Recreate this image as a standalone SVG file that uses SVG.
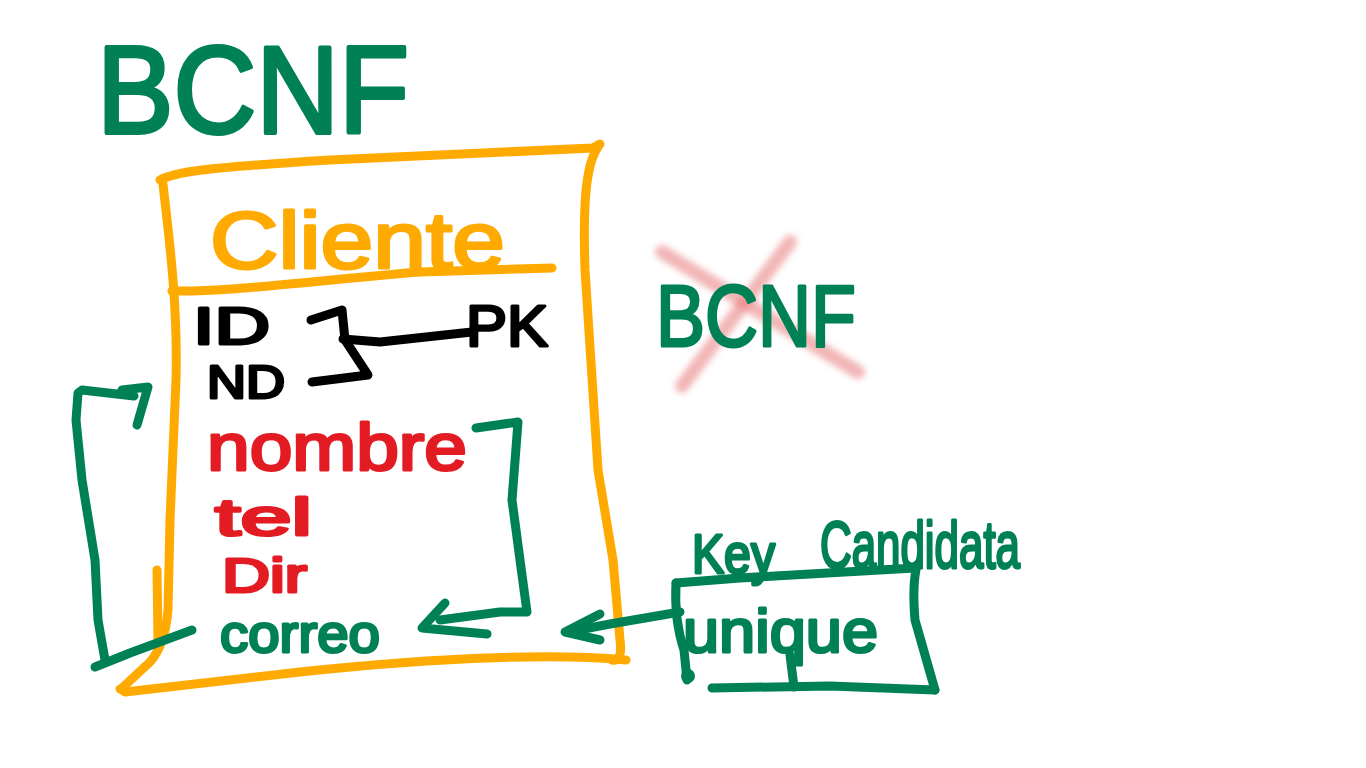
<svg xmlns="http://www.w3.org/2000/svg" width="1366" height="768" viewBox="0 0 1366 768">
<style>
.s{fill:none;stroke-linecap:round;stroke-linejoin:round;stroke-width:9}
.o{stroke:#ffaa00}.g{stroke:#008055}.k{stroke:#000}
.t{font-family:"Liberation Sans","DejaVu Sans",sans-serif;stroke-linejoin:round;stroke-width:3}
.tg{fill:#008055;stroke:#008055}.to{fill:#ffaa00;stroke:#ffaa00}.tk{fill:#000;stroke:#000}.tr{fill:#e31b23;stroke:#e31b23}
</style>
<defs>
<filter id="blur" x="-20%" y="-20%" width="140%" height="140%"><feGaussianBlur stdDeviation="3"/></filter>
</defs>
<rect width="1366" height="768" fill="#fff"/>

<g id="title">
<text class="t tg" x="97" y="133" font-size="125" textLength="312" lengthAdjust="spacingAndGlyphs" style="stroke-width:4">BCNF</text>
</g>

<g id="cliente-table">
<path class="s o" d="M160,180 C175,172 200,168 330,160 Q500,152 593,148 L600,144"/>
<path class="s o" d="M598,147 C585,165 583,210 585,270 L598,470 L613,560 L620,640 Q623,662 612,660"/>
<path class="s o" d="M626,660 C560,654 450,656 300,672 L125,692 L120,689"/>
<path class="s o" d="M163,184 C168,230 178,300 176,380 L170,520 L168,610 Q165,645 150,662 L122,688"/>
<path class="s o" d="M157,570 L158,640"/>
<path class="s o" d="M172,291 C230,292 300,282 420,272 L552,268"/>
<text class="t to" x="210" y="268" font-size="80" textLength="295" lengthAdjust="spacingAndGlyphs">Cliente</text>
</g>

<g id="keys">
<text class="t tk" x="193" y="344" font-size="52" textLength="77" lengthAdjust="spacingAndGlyphs">ID</text>
<text class="t tk" x="207" y="398" font-size="46" textLength="78" lengthAdjust="spacingAndGlyphs">ND</text>
<text class="t tk" x="466" y="346" font-size="58" textLength="82" lengthAdjust="spacingAndGlyphs">PK</text>
</g>

<g id="attributes">
<text class="t tr" x="207" y="470" font-size="67" textLength="260" lengthAdjust="spacingAndGlyphs">nombre</text>
<text class="t tr" x="215" y="535" font-size="52" textLength="97" lengthAdjust="spacingAndGlyphs">tel</text>
<text class="t tr" x="222" y="592" font-size="48" textLength="85" lengthAdjust="spacingAndGlyphs">Dir</text>
<text class="t tg" x="220" y="652" font-size="54" textLength="160" lengthAdjust="spacingAndGlyphs">correo</text>
</g>

<g id="crossed-bcnf">
<path d="M662,252 L858,372" stroke="#e87a7a" stroke-opacity="0.55" stroke-width="14" stroke-linecap="round" fill="none" filter="url(#blur)"/>
<path d="M790,242 L682,386" stroke="#e87a7a" stroke-opacity="0.55" stroke-width="14" stroke-linecap="round" fill="none" filter="url(#blur)"/>
<text class="t tg" x="656" y="346" font-size="88" textLength="200" lengthAdjust="spacingAndGlyphs">BCNF</text>
</g>

<g id="candidate-key">
<path class="s g" d="M676,583 L740,578 L915,568"/>
<path class="s g" d="M917,565 Q912,585 915,620 L935,690"/>
<path class="s g" d="M935,690 L830,686 L712,688"/>
<path class="s g" d="M676,583 Q674,620 684,650 L687,680"/>
<path class="s g" d="M794,687 L790,655"/>
<circle cx="688" cy="676" r="7" fill="#008055"/>
<text class="t tg" x="692" y="573" font-size="55" textLength="83" lengthAdjust="spacingAndGlyphs">Key</text>
<text class="t tg" x="820" y="568" font-size="66" textLength="200" lengthAdjust="spacingAndGlyphs">Candidata</text>
<text class="t tg" x="683" y="652" font-size="62" textLength="195" lengthAdjust="spacingAndGlyphs">unique</text>
</g>

<g id="connectors">
<path class="s k" d="M311,320 L342,310 L345,340 L368,375 L312,382"/>
<path class="s k" d="M343,339 L380,342 L472,332"/>
<path class="s g" d="M192,630 L130,653 L95,667"/>
<path class="s g" d="M105,660 L98,620 L95,560 L82,480 L76,420 L78,393 L82,390 L134,396"/>
<path class="s g" d="M122,390 L148,387 L137,425"/>
<path class="s g" d="M476,428 L518,422 L512,500 L520,560 L527,612 L500,612 L440,620"/>
<path class="s g" d="M445,603 L422,628 L487,634"/>
<path class="s g" d="M680,612 L610,624 L568,632"/>
<path class="s g" d="M600,614 L565,632 L600,640"/>
</g>
</svg>
